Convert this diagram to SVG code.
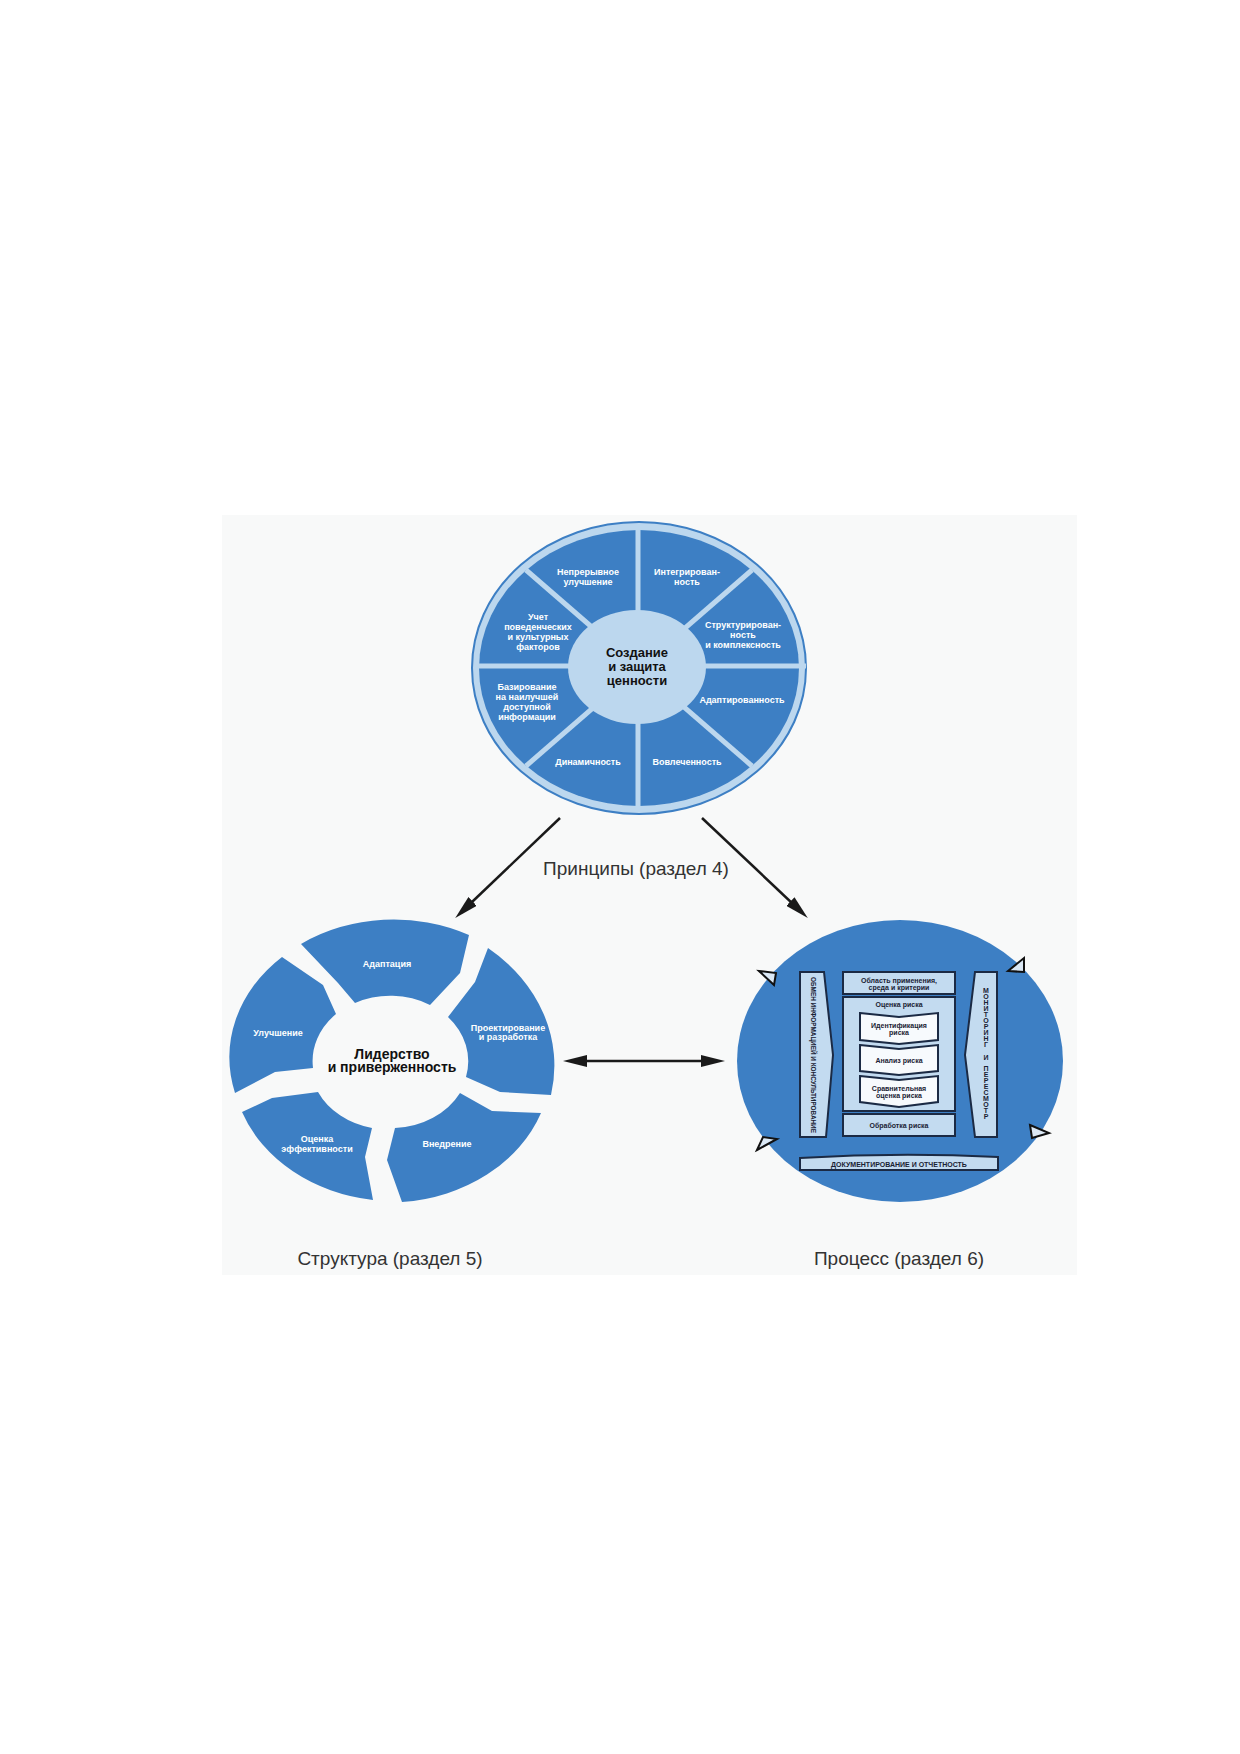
<svg xmlns="http://www.w3.org/2000/svg" width="1240" height="1754" viewBox="0 0 1240 1754">
<defs>
<style>
.wt{font-family:"Liberation Sans",Arial,sans-serif;font-weight:bold;font-size:9px;fill:#ffffff;text-anchor:middle}
.ct{font-family:"Liberation Sans",Arial,sans-serif;font-weight:bold;fill:#111111;text-anchor:middle}
.lbl{font-family:"Liberation Sans",Arial,sans-serif;font-size:19px;fill:#333333;text-anchor:middle}
.pt{font-family:"Liberation Sans",Arial,sans-serif;font-weight:bold;font-size:7px;fill:#1a2233;text-anchor:middle}
.seg{fill:#3d7fc4}
.pbox{fill:#c3dbf0;stroke:#1b2a44;stroke-width:2}
.chev{fill:#f7fafd;stroke:#1b2a44;stroke-width:2}
.tri{fill:#dbe8f5;stroke:#111111;stroke-width:2;stroke-linejoin:miter}
.div{stroke:#bcd7ee;stroke-width:5}
.arr{stroke:#1a1a1a;stroke-width:2.5;fill:none}
</style>
<marker id="ah" markerUnits="userSpaceOnUse" markerWidth="24" markerHeight="12" refX="16" refY="6" orient="auto-start-reverse">
<path d="M0,0 L24,6 L0,12 Z" fill="#1a1a1a"/>
</marker>
</defs>
<rect x="0" y="0" width="1240" height="1754" fill="#ffffff"/>
<rect x="222" y="515" width="855" height="760" fill="#f8f9f9"/>

<g id="principles">
<ellipse cx="639" cy="668" rx="167" ry="146" fill="#bcd7ee" stroke="#3d7fc4" stroke-width="2"/>
<ellipse cx="639" cy="668" rx="160" ry="138" fill="#3d7fc4"/>
<line class="div" x1="638" y1="524" x2="638" y2="812"/>
<line class="div" x1="474" y1="666" x2="806" y2="666"/>
<line class="div" x1="526" y1="570" x2="752" y2="766"/>
<line class="div" x1="752" y1="570" x2="526" y2="766"/>
<ellipse cx="637" cy="667" rx="69" ry="57" fill="#bcd7ee"/>
<text class="wt" x="588" y="575">Непрерывное</text>
<text class="wt" x="588" y="585">улучшение</text>
<text class="wt" x="687" y="575">Интегрирован-</text>
<text class="wt" x="687" y="585">ность</text>
<text class="wt" x="538" y="620">Учет</text>
<text class="wt" x="538" y="630">поведенческих</text>
<text class="wt" x="538" y="640">и культурных</text>
<text class="wt" x="538" y="650">факторов</text>
<text class="wt" x="743" y="628">Структурирован-</text>
<text class="wt" x="743" y="638">ность</text>
<text class="wt" x="743" y="648">и комплексность</text>
<text class="wt" x="527" y="690">Базирование</text>
<text class="wt" x="527" y="700">на наилучшей</text>
<text class="wt" x="527" y="710">доступной</text>
<text class="wt" x="527" y="720">информации</text>
<text class="wt" x="742" y="703">Адаптированность</text>
<text class="wt" x="588" y="765">Динамичность</text>
<text class="wt" x="687" y="765">Вовлеченность</text>
<text class="ct" font-size="13" x="637" y="657">Создание</text>
<text class="ct" font-size="13" x="637" y="671">и защита</text>
<text class="ct" font-size="13" x="637" y="685">ценности</text>
</g>

<g id="structure">
<path class="seg" d="M301,944 A162,136 0 0 1 469,935 L460,973 L430,1005 A78,66 0 0 0 355,1003 L338,983 Z"/>
<path class="seg" d="M488,948 A175,150 0 0 1 551,1095 L500,1092 L466,1077 A78,66 0 0 0 448,1017 L475,982 Z"/>
<path class="seg" d="M541,1113 L492,1111 L460,1093 A78,66 0 0 1 395,1128 L387,1160 L402,1202 A162,136 0 0 0 541,1113 Z"/>
<path class="seg" d="M242,1112 L272,1098 L318,1092 A78,66 0 0 0 372,1128 L365,1157 L373,1200 A162,136 0 0 1 242,1112 Z"/>
<path class="seg" d="M282,957 L323,985 L336,1014 A78,66 0 0 0 313,1068 L275,1072 L235,1093 A162,136 0 0 1 282,957 Z"/>
<text class="wt" x="387" y="967">Адаптация</text>
<text class="wt" x="278" y="1036">Улучшение</text>
<text class="wt" x="508" y="1031">Проектирование</text>
<text class="wt" x="508" y="1040">и разработка</text>
<text class="wt" x="447" y="1147">Внедрение</text>
<text class="wt" x="317" y="1142">Оценка</text>
<text class="wt" x="317" y="1152">эффективности</text>
<text class="ct" font-size="14" x="392" y="1059">Лидерство</text>
<text class="ct" font-size="14" x="392" y="1072">и приверженность</text>
</g>

<g id="process">
<ellipse cx="900" cy="1061" rx="163" ry="141" fill="#3d7fc4"/>
<path class="pbox" d="M800,972 L824,972 L833,1055 L826,1137 L800,1137 Z"/>
<text class="pt" font-size="6.5" transform="translate(813,1055) rotate(90)" y="2.3" textLength="156" lengthAdjust="spacingAndGlyphs">ОБМЕН ИНФОРМАЦИЕЙ И КОНСУЛЬТИРОВАНИЕ</text>
<path class="pbox" d="M975,972 L997,972 L997,1137 L975,1137 L965,1055 Z"/>
<text class="pt"><tspan x="986" y="993">М</tspan><tspan x="986" y="999">О</tspan><tspan x="986" y="1005">Н</tspan><tspan x="986" y="1011">И</tspan><tspan x="986" y="1017">Т</tspan><tspan x="986" y="1023">О</tspan><tspan x="986" y="1029">Р</tspan><tspan x="986" y="1035">И</tspan><tspan x="986" y="1041">Н</tspan><tspan x="986" y="1047">Г</tspan><tspan x="986" y="1060">И</tspan><tspan x="986" y="1071">П</tspan><tspan x="986" y="1077">Е</tspan><tspan x="986" y="1083">Р</tspan><tspan x="986" y="1089">Е</tspan><tspan x="986" y="1095">С</tspan><tspan x="986" y="1101">М</tspan><tspan x="986" y="1107">О</tspan><tspan x="986" y="1113">Т</tspan><tspan x="986" y="1119">Р</tspan></text>
<rect class="pbox" x="843" y="972" width="112" height="22"/>
<text class="pt" x="899" y="982.5">Область применения,</text>
<text class="pt" x="899" y="990">среда и критерии</text>
<rect class="pbox" x="843" y="997" width="112" height="114"/>
<text class="pt" x="899" y="1007">Оценка риска</text>
<path class="chev" d="M860,1013 L899,1017 L938,1013 L938,1040 L899,1044 L860,1040 Z"/>
<text class="pt" x="899" y="1027.5">Идентификация</text>
<text class="pt" x="899" y="1035">риска</text>
<path class="chev" d="M860,1045 L899,1049 L938,1045 L938,1071 L899,1075 L860,1071 Z"/>
<text class="pt" x="899" y="1062.5">Анализ риска</text>
<path class="chev" d="M860,1076 L899,1080 L938,1076 L938,1102 L899,1107 L860,1102 Z"/>
<text class="pt" x="899" y="1090.5">Сравнительная</text>
<text class="pt" x="899" y="1098">оценка риска</text>
<rect class="pbox" x="843" y="1114" width="112" height="22"/>
<text class="pt" x="899" y="1127.5">Обработка риска</text>
<path class="pbox" d="M800,1158 Q899,1152 998,1157 L998,1170 L800,1170 Z"/>
<text class="pt" x="899" y="1166.5">ДОКУМЕНТИРОВАНИЕ И ОТЧЕТНОСТЬ</text>
<path class="tri" d="M759,971 L776,973 L774,985 Z"/>
<path class="tri" d="M1008,971 L1024,958 L1024,972 Z"/>
<path class="tri" d="M1030,1125 L1049,1133 L1032,1138 Z"/>
<path class="tri" d="M757,1150 L777,1139 L763,1137 Z"/>
</g>

<g id="connectors">
<line class="arr" x1="560" y1="818" x2="461" y2="912.5" marker-end="url(#ah)"/>
<line class="arr" x1="702" y1="818" x2="802" y2="912.5" marker-end="url(#ah)"/>
<line class="arr" x1="571" y1="1061" x2="717" y2="1061" marker-start="url(#ah)" marker-end="url(#ah)"/>
</g>

<g id="labels">
<text class="lbl" x="636" y="875">Принципы (раздел 4)</text>
<text class="lbl" x="390" y="1265">Структура (раздел 5)</text>
<text class="lbl" x="899" y="1265">Процесс (раздел 6)</text>
</g>
</svg>
